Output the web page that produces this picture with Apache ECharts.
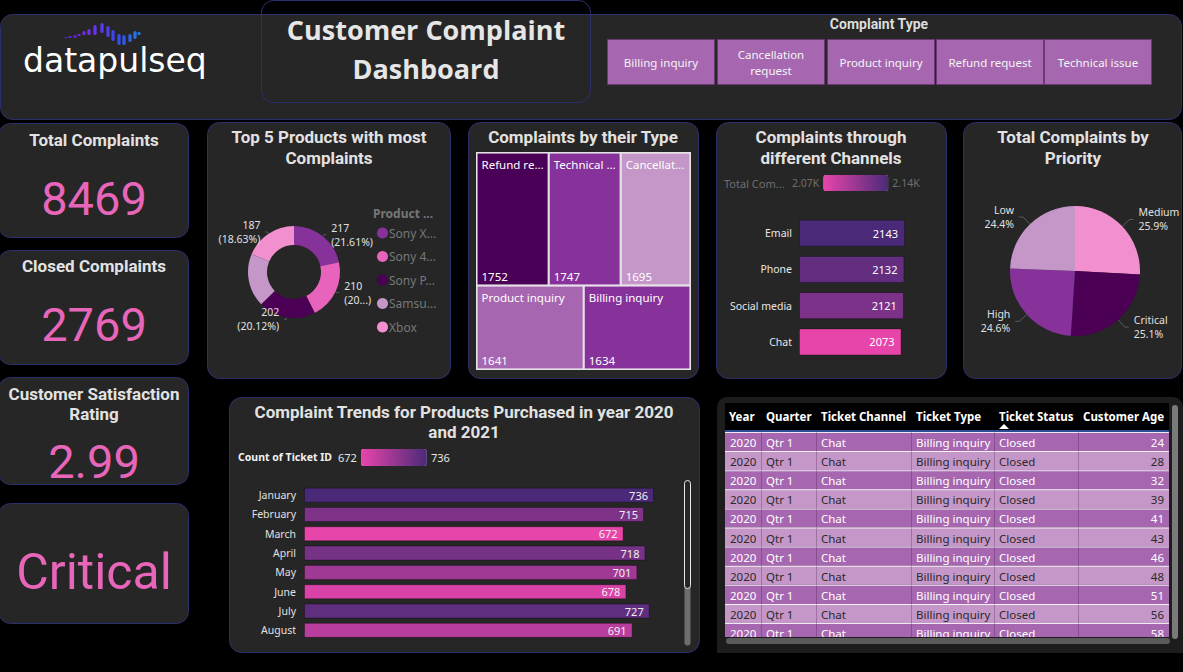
<!DOCTYPE html>
<html><head><meta charset="utf-8">
<script src="https://cdn.jsdelivr.net/npm/echarts@6/dist/echarts.min.js"></script>
<style>html,body{margin:0;padding:0;background:#000;overflow:hidden}#c{width:1183px;height:672px}</style>
</head><body><div id="c"></div>
<script>
// ---------------- DATA ----------------
const complaintTypes = ['Billing inquiry', 'Cancellation\nrequest', 'Product inquiry', 'Refund request', 'Technical issue'];
const kpiTitles = [['Total Complaints'], ['Closed Complaints'], ['Customer Satisfaction', 'Rating']];
const kpiValues = ['8469', '2769', '2.99'];
const topPriority = 'Critical';

const productNames = ['Sony X...', 'Sony 4...', 'Sony P...', 'Samsu...', 'Xbox'];
const productCounts = [217, 210, 202, 188, 187];
const productLabelShown = [true, true, true, false, true];
const productLabelCut = [false, true, false, false, false];

const typeNames = ['Refund request', 'Technical issue', 'Cancellation request', 'Product inquiry', 'Billing inquiry'];
const typeCounts = [1752, 1747, 1695, 1641, 1634];

const channelNames = ['Email', 'Phone', 'Social media', 'Chat'];
const channelCounts = [2143, 2132, 2121, 2073];
const channelLegendText = ['2.14K', '2.07K'];

const priorityNames = ['Medium', 'Critical', 'High', 'Low'];
const priorityCounts = [2192, 2129, 2082, 2066];

const monthNames = ['January', 'February', 'March', 'April', 'May', 'June', 'July', 'August'];
const monthCounts = [736, 715, 672, 718, 701, 678, 727, 691];

const tableColumns = ['Year', 'Quarter', 'Ticket Channel', 'Ticket Type', 'Ticket Status', 'Customer Age'];
const tableYear = [2020, 2020, 2020, 2020, 2020, 2020, 2020, 2020, 2020, 2020, 2020];
const tableQuarter = ['Qtr 1', 'Qtr 1', 'Qtr 1', 'Qtr 1', 'Qtr 1', 'Qtr 1', 'Qtr 1', 'Qtr 1', 'Qtr 1', 'Qtr 1', 'Qtr 1'];
const tableChannel = ['Chat', 'Chat', 'Chat', 'Chat', 'Chat', 'Chat', 'Chat', 'Chat', 'Chat', 'Chat', 'Chat'];
const tableType = ['Billing inquiry', 'Billing inquiry', 'Billing inquiry', 'Billing inquiry', 'Billing inquiry', 'Billing inquiry', 'Billing inquiry', 'Billing inquiry', 'Billing inquiry', 'Billing inquiry', 'Billing inquiry'];
const tableStatus = ['Closed', 'Closed', 'Closed', 'Closed', 'Closed', 'Closed', 'Closed', 'Closed', 'Closed', 'Closed', 'Closed'];
const tableAge = [24, 28, 32, 39, 41, 43, 46, 48, 51, 56, 58];

// ---------------- STYLE ----------------
const PANEL = '#262626', BORDER = '#2c2f6c', TITLE = '#e2e2e2', PINK = '#e866b9';
const HEAD = "Roboto, 'Noto Sans', sans-serif";
const BODY = "'Noto Sans', 'DejaVu Sans', sans-serif";
const productColors = ['#87329a', '#e863bb', '#4b0055', '#c497c8', '#f28fcf'];
const typeColors = ['#4a0057', '#87329a', '#c497c8', '#a667b0', '#87329a'];
const priorityColors = ['#f28fcf', '#4b0055', '#87329a', '#c497c8'];
const rampColors = ['#e845ab', '#4a2a78'];

const G = [];
function rect(x, y, w, h, fill, stroke, r, lw, z) {
  G.push({ type: 'rect', z: z || 0, silent: true, shape: { x, y, width: w, height: h, r: r || 0 },
    style: { fill: fill || 'none', stroke: stroke || 'none', lineWidth: lw || 1 } });
}
function text(t, x, y, o) {
  o = o || {};
  G.push({ type: 'text', z: o.z || 2, silent: true, x, y,
    style: { text: t, fill: o.color || TITLE, fontSize: o.size || 12, fontFamily: o.font || BODY,
      fontWeight: o.weight || 'normal', align: o.align || 'left', verticalAlign: o.valign || 'middle',
      lineHeight: o.lh || undefined } });
}
const TS = 17; // panel title size

// header
rect(0.5, 14.5, 1181, 105, PANEL, BORDER, 12);
rect(261.5, 0.5, 329, 102, 'none', BORDER, 12);
text('Customer Complaint', 426, 29, { size: 27, weight: 'bold', font: "'Open Sans', " + BODY, align: 'center', color: '#e6e6e6' });
text('Dashboard', 426, 68, { size: 27, weight: 'bold', font: "'Open Sans', " + BODY, align: 'center', color: '#e6e6e6' });
// logo
(function () {
  const bars = [[66,37,38],[70,36,38],[75,35,38],[79,34,36],[84,31,35],[89,29,35],[95,25,35],[102,23,33],[108,26,37],[113,30,41],[119,34,45],[124,35,45],[130,34,42],[135,31,39],[139,32,35]];
  bars.forEach((b, i) => {
    const t = i / (bars.length - 1);
    const c = echarts.color.lerp(t, ['#5a22c8', '#7a2cf5', '#3b46f0', '#1f7de6']);
    rect(b[0] - 1.6, b[1], 3.2, b[2] - b[1], c, null, 1.6);
  });
})();
text('datapulseq', 23, 60, { size: 33, font: "'DejaVu Sans', sans-serif", color: '#ffffff' });

// complaint type slicer
text('Complaint Type', 879, 24, { size: 14, weight: 'bold', font: HEAD, align: 'center', color: '#dcdcdc' });
const slicerX = [607, 717, 827, 936, 1044];
complaintTypes.forEach((t, i) => {
  rect(slicerX[i] + 0.5, 39.5, 107, 45, '#a667b0', '#6b3a73', 0);
  text(t, slicerX[i] + 54, 62, { size: 11.5, align: 'center', color: '#f4f4f4', lh: 16 });
});

// KPI cards
const kpiBoxes = [[-2, 123, 190, 114], [-2, 250, 190, 114], [-2, 377, 190, 107], [-2, 503, 190, 120]];
kpiBoxes.forEach(b => rect(b[0] + 0.5, b[1] + 0.5, b[2], b[3], PANEL, BORDER, 12));
const kpiTitleY = [[140], [266], [394, 414]];
const kpiValueY = [198, 324, 461];
kpiTitles.forEach((lines, i) => {
  lines.forEach((l, j) => text(l, 94, kpiTitleY[i][j], { size: TS, weight: 'bold', font: HEAD, align: 'center' }));
  text(kpiValues[i], 94, kpiValueY[i], { size: 47, font: HEAD, align: 'center', color: PINK });
});
text(topPriority, 94, 572, { size: 50, font: HEAD, align: 'center', color: PINK });

// chart panels
rect(207.5, 122.5, 243, 256, PANEL, BORDER, 12);
rect(468.5, 122.5, 230, 256, PANEL, BORDER, 12);
rect(716.5, 122.5, 230, 256, PANEL, BORDER, 12);
rect(963.5, 122.5, 218, 256, PANEL, BORDER, 12);
rect(229.5, 397.5, 470, 255, PANEL, BORDER, 12);
rect(717, 397, 466, 256, '#1d1d1d', null, 10);

text('Top 5 Products with most', 329, 137, { size: TS, weight: 'bold', font: HEAD, align: 'center' });
text('Complaints', 329, 158, { size: TS, weight: 'bold', font: HEAD, align: 'center' });
text('Product ...', 373, 213, { size: 12, weight: 'bold', color: '#777777' });
text('Complaints by their Type', 583, 137, { size: TS, weight: 'bold', font: HEAD, align: 'center' });
text('Complaints through', 831, 137, { size: TS, weight: 'bold', font: HEAD, align: 'center' });
text('different Channels', 831, 158, { size: TS, weight: 'bold', font: HEAD, align: 'center' });
text('Total Com...', 724, 183, { size: 11, color: '#6f6f6f' });
text('Total Complaints by', 1073, 137, { size: TS, weight: 'bold', font: HEAD, align: 'center' });
text('Priority', 1073, 158, { size: TS, weight: 'bold', font: HEAD, align: 'center' });
text('Complaint Trends for Products Purchased in year 2020', 464, 412, { size: TS, weight: 'bold', font: HEAD, align: 'center' });
text('and 2021', 464, 432, { size: TS, weight: 'bold', font: HEAD, align: 'center' });
text('Count of Ticket ID', 238, 457, { size: 10.5, weight: 'bold', color: '#f2f2f2' });
// trends scrollbar
rect(684.5, 480.5, 6, 165, '#6e6e6e', null, 3);
rect(684.5, 480.5, 6, 108, '#262626', '#e6e6e6', 3);

// table
const colX = [729, 766, 821, 916, 999, 1083];
const colSep = [761, 816, 911, 994, 1078];
rect(725, 403, 444, 28, '#000000');
tableColumns.forEach((c, i) => text(c, colX[i], 416, { size: 11.5, weight: 'bold', color: '#ffffff' }));
rect(725, 430, 444, 2, '#2d4d96');
G.push({ type: 'polygon', z: 3, silent: true, shape: { points: [[999, 429], [1009, 429], [1004, 424]] }, style: { fill: '#ffffff' } });
const rowTop = 432, rowH = 19.1;
tableAge.forEach((age, i) => {
  const y = rowTop + i * rowH;
  const odd = i % 2 === 0;
  rect(725, y, 444, rowH, odd ? '#a667b0' : '#c497c8');
  rect(725, y, 444, 1, 'rgba(255,255,255,0.85)');
  colSep.forEach(sx => rect(sx, y, 1, rowH, 'rgba(60,20,70,0.28)'));
  const col = odd ? '#ffffff' : '#2a2a2a';
  const cy = y + rowH / 2 + 1;
  text(String(tableYear[i]), 730, cy, { size: 11.5, color: col });
  text(tableQuarter[i], 766, cy, { size: 11.5, color: col });
  text(tableChannel[i], 821, cy, { size: 11.5, color: col });
  text(tableType[i], 916, cy, { size: 11.5, color: col });
  text(tableStatus[i], 999, cy, { size: 11.5, color: col });
  text(String(age), 1164, cy, { size: 11.5, color: col, align: 'right' });
});
rect(717, 637, 466, 16, '#1d1d1d', null, 0, 1, 5);
rect(726, 638, 444, 6, '#5a5a5a', null, 3, 1, 6);
rect(1172, 405, 6, 234, '#7a7a7a', null, 3, 1, 6);

// ---------------- CHART ----------------
const chart = echarts.init(document.getElementById('c'), null, { renderer: 'svg', width: 1183, height: 672 });
const lbl = { color: '#e0e0e0', fontSize: 10.5, fontFamily: BODY, lineHeight: 14 };

const option = {
  backgroundColor: '#000000',
  animation: false,
  graphic: { elements: G },
  legend: {
    data: productNames, orient: 'vertical', left: 372, top: 222, icon: 'circle',
    itemWidth: 11, itemHeight: 11, itemGap: 11.5, selectedMode: false,
    textStyle: { color: '#777777', fontSize: 12, fontFamily: BODY, padding: [0, 0, 0, -4] }
  },
  grid: [
    { left: 799, top: 215, width: 106, height: 145 },
    { left: 304, top: 485.5, width: 350, height: 154.5 }
  ],
  xAxis: [
    { gridIndex: 0, type: 'value', min: 0, max: 'dataMax', show: false },
    { gridIndex: 1, type: 'value', min: 0, max: 'dataMax', show: false }
  ],
  yAxis: [
    { gridIndex: 0, type: 'category', data: channelNames, inverse: true,
      axisLine: { show: false }, axisTick: { show: false },
      axisLabel: { color: '#e6e6e6', fontSize: 10.5, fontFamily: BODY, margin: 7 } },
    { gridIndex: 1, type: 'category', data: monthNames, inverse: true,
      axisLine: { show: false }, axisTick: { show: false },
      axisLabel: { color: '#e0e0e0', fontSize: 10.5, fontFamily: BODY, margin: 8 } }
  ],
  visualMap: [
    { type: 'continuous', seriesIndex: 3, dimension: 0, min: Math.min(...channelCounts), max: Math.max(...channelCounts),
      orient: 'horizontal', left: 777, top: 160, itemWidth: 16, itemHeight: 65, calculable: false, hoverLink: false,
      text: channelLegendText, textGap: 4, textStyle: { color: '#6f6f6f', fontSize: 10.5, fontFamily: BODY },
      inRange: { color: rampColors } },
    { type: 'continuous', seriesIndex: 5, dimension: 0, min: Math.min(...monthCounts), max: Math.max(...monthCounts),
      orient: 'horizontal', left: 323, top: 434, itemWidth: 17, itemHeight: 66, calculable: false, hoverLink: false,
      text: [String(Math.max(...monthCounts)), String(Math.min(...monthCounts))], textGap: 4,
      textStyle: { color: '#e6e6e6', fontSize: 11, fontFamily: BODY },
      inRange: { color: rampColors } }
  ],
  series: [
    { type: 'pie', name: 'products', center: [294, 272], radius: [27, 46], startAngle: 90, clockwise: true,
      percentPrecision: 2, avoidLabelOverlap: false,
      itemStyle: { borderWidth: 0 },
      labelLine: { length: 2, length2: 2, lineStyle: { color: '#5c5c5c', width: 1 } },
      data: productNames.map((n, i) => ({
        name: n, value: productCounts[i], itemStyle: { color: productColors[i] },
        label: { show: productLabelShown[i], ...lbl,
          formatter: p => productLabelCut[i] ? p.value + '\n(' + String(p.percent).slice(0, 2) + '...)' : p.value + '\n(' + p.percent.toFixed(2) + '%)' },
        labelLine: { show: productLabelShown[i] }
      }))
    },
    { type: 'treemap', left: 476, top: 152, width: 215, height: 218, roam: false, nodeClick: false,
      breadcrumb: { show: false }, sort: 'desc',
      levels: [{ itemStyle: { borderColor: '#e4e4e4', borderWidth: 1.5, gapWidth: 2 } }],
      label: { show: true, position: 'insideTopLeft', distance: 0, padding: [5, 3, 3, 4], color: '#ffffff', fontSize: 11.5, fontFamily: BODY,
        overflow: 'truncate', ellipsis: '...', formatter: '{b}' },
      data: typeNames.map((n, i) => ({ name: n, value: typeCounts[i], itemStyle: { color: typeColors[i] } }))
    },
    { type: 'treemap', left: 476, top: 152, width: 215, height: 218, roam: false, nodeClick: false, silent: true,
      breadcrumb: { show: false }, sort: 'desc',
      levels: [{ itemStyle: { borderColor: 'rgba(0,0,0,0)', borderWidth: 1.5, gapWidth: 2 } }],
      itemStyle: { color: 'rgba(0,0,0,0)' },
      label: { show: true, position: 'insideBottomLeft', distance: 0, padding: [3, 3, 2, 4], color: '#ffffff', fontSize: 11.5, fontFamily: BODY, formatter: '{c}' },
      data: typeNames.map((n, i) => ({ name: n, value: typeCounts[i], itemStyle: { color: 'rgba(0,0,0,0)' } }))
    },
    { type: 'bar', xAxisIndex: 0, yAxisIndex: 0, barWidth: 27, encode: { x: 0, y: 1 },
      itemStyle: { borderColor: 'rgba(0,0,0,0.3)', borderWidth: 1 },
      label: { show: true, position: 'insideRight', distance: 7, color: '#ffffff', fontSize: 11, fontFamily: BODY, formatter: p => p.value[0] },
      data: channelNames.map((n, i) => [channelCounts[i], n])
    },
    { type: 'pie', name: 'priority', center: [1075, 271], radius: 65, startAngle: 90, clockwise: true,
      percentPrecision: 1, avoidLabelOverlap: false, itemStyle: { borderWidth: 0 },
      label: { ...lbl, formatter: '{b}\n{d}%' },
      labelLine: { length: 10, length2: 4, lineStyle: { color: '#5c5c5c', width: 1 } },
      data: priorityNames.map((n, i) => ({ name: n, value: priorityCounts[i], itemStyle: { color: priorityColors[i] } }))
    },
    { type: 'bar', xAxisIndex: 1, yAxisIndex: 1, barWidth: 15, encode: { x: 0, y: 1 },
      itemStyle: { borderColor: 'rgba(0,0,0,0.3)', borderWidth: 1 },
      label: { show: true, position: 'insideRight', distance: 6, color: '#f0f0f0', fontSize: 11, fontFamily: BODY, formatter: p => p.value[0] },
      data: monthNames.map((n, i) => [monthCounts[i], n])
    }
  ]
};
chart.setOption(option);
</script>
</body></html>
